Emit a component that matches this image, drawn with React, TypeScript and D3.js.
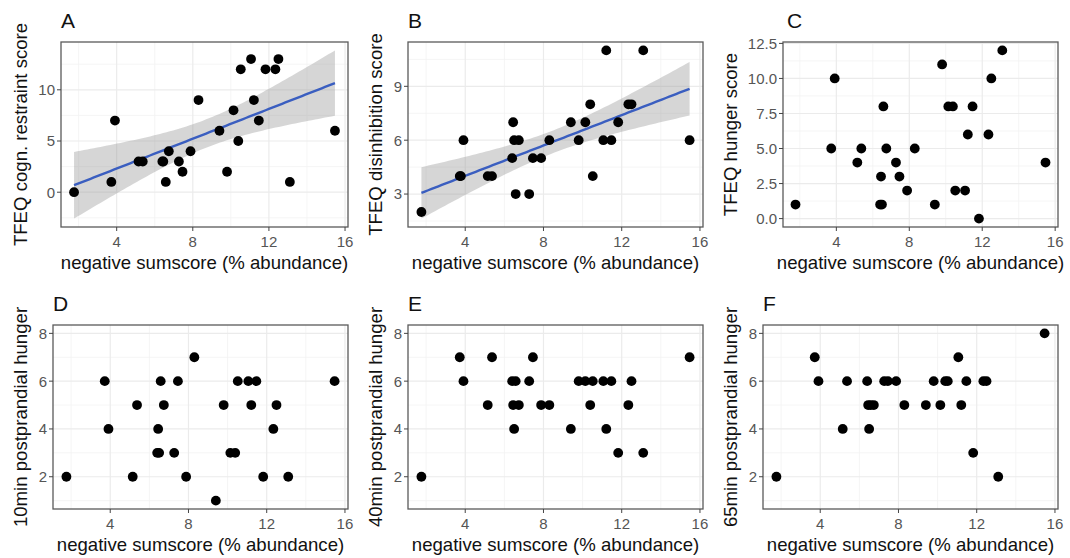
import React from "react";
import * as d3 from "d3";

// participants: negative sumscore (% abundance)
const sumscore = [1.76, 3.72, 3.78, 3.91, 5.15, 5.37, 6.4, 6.45, 6.5, 6.58, 6.74, 7.27, 7.46, 7.88, 8.3, 9.4, 9.8, 10.14, 10.39, 10.52, 11.06, 11.21, 11.47, 11.82, 12.34, 12.5, 13.1, 15.47];

const restraint = [0, 1, null, 7, 3, 3, 3, 3, null, 1, 4, 3, 2, 4, 9, 6, 2, 8, 5, 12, 13, 9, 7, 12, 12, 13, 1, 6];
const disinhibition = [2, 4, 4, 6, 4, 4, 5, 7, 6, 3, 6, 3, 5, 5, 6, 7, 6, 7, 8, 4, 6, 11, 6, 7, 8, 8, 11, 6];
const hunger = [1, 5, null, 10, 4, 5, 1, 3, 1, 8, 5, 4, 3, 2, 5, 1, 11, 8, 8, 2, 2, 6, 8, 0, 6, 10, 12, 4];
const hunger10 = [2, 6, null, 4, 2, 5, 3, 4, 3, 6, 5, 3, 6, 2, 7, 1, 5, 3, 3, 6, 6, 5, 6, 2, 4, 5, 2, 6];
const hunger40 = [2, 7, null, 6, 5, 7, 6, 5, 4, 6, 5, 6, 7, 5, 5, 4, 6, 6, 5, 6, 6, 4, 6, 3, 5, 6, 3, 7];
const hunger65 = [2, 7, null, 6, 4, 6, 6, 5, 4, 5, 5, 6, 6, 6, 5, 5, 6, 5, 6, 6, 7, 5, 6, 3, 6, 6, 2, 8];

const xTicks = [4, 8, 12, 16];
const xMinor = [2, 6, 10, 14];
const ticksA = [0, 5, 10];
const minorA = [-2.5, 2.5, 7.5, 12.5];
const ticksB = [3, 6, 9];
const minorB = [1.5, 4.5, 7.5, 10.5];
const ticksC = [0, 2.5, 5, 7.5, 10, 12.5];
const minorC = [1.25, 3.75, 6.25, 8.75, 11.25];
const ticksHunger = [2, 4, 6, 8];
const minorHunger = [1, 3, 5, 7];

const xTitle = "negative sumscore (% abundance)";
const FONT = "'Liberation Sans', Arial, Helvetica, sans-serif";

type Pt = { x: number; y: number };

function tQuantile(df: number) {
  const z = 1.959964;
  return z + (z ** 3 + z) / (4 * df) + (5 * z ** 5 + 16 * z ** 3 + 3 * z) / (96 * df * df);
}

// ordinary least squares with 95% confidence band, like geom_smooth(method = "lm")
function fitLm(pts: Pt[]) {
  const n = pts.length;
  const mx = d3.mean(pts, p => p.x)!;
  const my = d3.mean(pts, p => p.y)!;
  const sxx = d3.sum(pts, p => (p.x - mx) ** 2);
  const sxy = d3.sum(pts, p => (p.x - mx) * (p.y - my));
  const b = sxy / sxx;
  const a = my - b * mx;
  const sse = d3.sum(pts, p => (p.y - a - b * p.x) ** 2);
  const s = Math.sqrt(sse / (n - 2));
  const t = tQuantile(n - 2);
  const [x0, x1] = d3.extent(pts, p => p.x) as [number, number];
  return d3.range(80).map(i => {
    const x = x0 + ((x1 - x0) * i) / 79;
    const fit = a + b * x;
    const se = s * Math.sqrt(1 / n + (x - mx) ** 2 / sxx);
    return { x, fit, lo: fit - t * se, hi: fit + t * se };
  });
}

function expand([lo, hi]: number[]) {
  const pad = (hi - lo) * 0.05;
  return [lo - pad, hi + pad];
}

type PanelProps = {
  tag: string;
  tagDx?: number;
  yTitle: string;
  values: (number | null)[];
  yTicks: number[];
  yMinor: number[];
  yFormat?: (v: number) => string;
  yLimits?: number[];
  smooth?: boolean;
  left: number;
  right: number;
  top: number;
  bottom: number;
  colX: number;
};

function Panel(p: PanelProps) {
  const pts: Pt[] = [];
  sumscore.forEach((x, i) => {
    const v = p.values[i];
    if (v !== null && v !== undefined) pts.push({ x, y: v });
  });
  const band = p.smooth ? fitLm(pts) : null;

  const x = d3.scaleLinear()
    .domain(expand(d3.extent(sumscore) as number[]))
    .range([p.left, p.right]);

  let yr: number[];
  if (p.yLimits) yr = p.yLimits;
  else {
    const ys = pts.map(d => d.y);
    if (band) band.forEach(b => { ys.push(b.lo, b.hi); });
    yr = d3.extent(ys) as number[];
  }
  const y = d3.scaleLinear().domain(expand(yr)).range([p.bottom, p.top]);

  const area = d3.area<any>().x(d => x(d.x)).y0(d => y(d.lo)).y1(d => y(d.hi));
  const line = d3.line<any>().x(d => x(d.x)).y(d => y(d.fit));
  const fmt = p.yFormat || ((v: number) => String(v));
  const cy = (p.top + p.bottom) / 2;
  const cx = (p.left + p.right) / 2;

  return (
    <g>
      <rect x={p.left} y={p.top} width={p.right - p.left} height={p.bottom - p.top} fill="#fff" />
      {xMinor.map(v => (
        <line key={"xm" + v} x1={x(v)} x2={x(v)} y1={p.top} y2={p.bottom} stroke="#F2F2F2" strokeWidth={0.8} />
      ))}
      {p.yMinor.map(v => (
        <line key={"ym" + v} x1={p.left} x2={p.right} y1={y(v)} y2={y(v)} stroke="#F2F2F2" strokeWidth={0.8} />
      ))}
      {xTicks.map(v => (
        <line key={"xg" + v} x1={x(v)} x2={x(v)} y1={p.top} y2={p.bottom} stroke="#EBEBEB" strokeWidth={1.2} />
      ))}
      {p.yTicks.map(v => (
        <line key={"yg" + v} x1={p.left} x2={p.right} y1={y(v)} y2={y(v)} stroke="#EBEBEB" strokeWidth={1.2} />
      ))}
      {band && <path d={area(band)!} fill="#999999" fillOpacity={0.4} />}
      {band && <path d={line(band)!} fill="none" stroke="#3A5EC0" strokeWidth={2.4} />}
      {pts.map((d, i) => (
        <circle key={i} cx={x(d.x)} cy={y(d.y)} r={4.9} fill="#000" />
      ))}
      <rect x={p.left} y={p.top} width={p.right - p.left} height={p.bottom - p.top} fill="none" stroke="#5A5A5A" strokeWidth={1.3} />
      {xTicks.map(v => (
        <g key={"xt" + v}>
          <line x1={x(v)} x2={x(v)} y1={p.bottom} y2={p.bottom + 4} stroke="#444" />
          <text x={x(v)} y={p.bottom + 20} textAnchor="middle" fontSize={15} fill="#555">{v}</text>
        </g>
      ))}
      {p.yTicks.map(v => (
        <g key={"yt" + v}>
          <line x1={p.left - 4} x2={p.left} y1={y(v)} y2={y(v)} stroke="#444" />
          <text x={p.left - 6} y={y(v)} dy="0.36em" textAnchor="end" fontSize={15} fill="#555">{fmt(v)}</text>
        </g>
      ))}
      <text x={cx} y={p.bottom + 42} textAnchor="middle" fontSize={18.6} fill="#111">{xTitle}</text>
      <text transform={`translate(${p.colX + 27},${cy}) rotate(-90)`} textAnchor="middle" fontSize={18.6} fill="#111">{p.yTitle}</text>
      <text x={p.left + (p.tagDx || 0)} y={p.top - 14} fontSize={21} fill="#111">{p.tag}</text>
    </g>
  );
}

export default function App() {
  const row1 = { top: 42, bottom: 227 };
  const row2 = { top: 325, bottom: 509 };
  const fmt1 = (v: number) => v.toFixed(1);
  return (
    <svg width={1070} height={558} style={{ position: "absolute", left: 0, top: 0, fontFamily: FONT }}>
      <rect width={1070} height={558} fill="#fff" />
      <Panel tag="A" yTitle="TFEQ cogn. restraint score" values={restraint} yTicks={ticksA} yMinor={minorA}
        smooth left={61} right={348} colX={0} {...row1} />
      <Panel tag="B" yTitle="TFEQ disinhibition score" values={disinhibition} yTicks={ticksB} yMinor={minorB}
        smooth left={408} right={703} colX={355} {...row1} />
      <Panel tag="C" tagDx={4} yTitle="TFEQ hunger score" values={hunger} yTicks={ticksC} yMinor={minorC}
        yFormat={fmt1} left={783} right={1058} colX={710} {...row1} />
      <Panel tag="D" yTitle="10min postprandial hunger" values={hunger10} yTicks={ticksHunger} yMinor={minorHunger}
        yLimits={[1, 8]} left={53} right={348} colX={0} {...row2} />
      <Panel tag="E" yTitle="40min postprandial hunger" values={hunger40} yTicks={ticksHunger} yMinor={minorHunger}
        yLimits={[1, 8]} left={408} right={703} colX={355} {...row2} />
      <Panel tag="F" yTitle="65min postprandial hunger" values={hunger65} yTicks={ticksHunger} yMinor={minorHunger}
        yLimits={[1, 8]} left={763} right={1058} colX={710} {...row2} />
    </svg>
  );
}
